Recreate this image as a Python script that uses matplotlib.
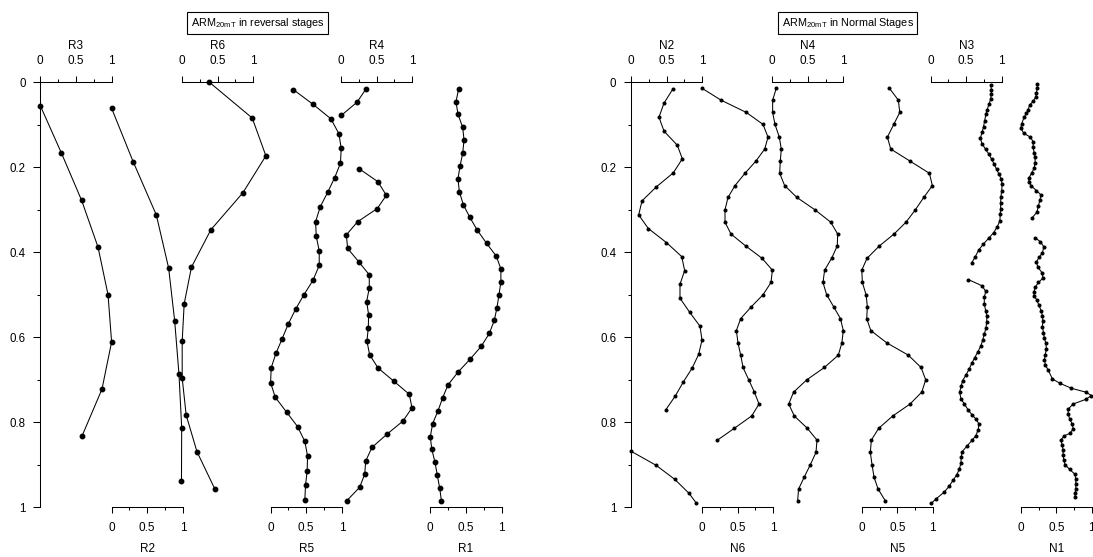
import numpy as np
import matplotlib
matplotlib.use('Agg')
import matplotlib.pyplot as plt
import matplotlib.transforms as mtransforms
from matplotlib.ticker import FixedLocator, FixedFormatter

plt.rcParams['font.family'] = ['Liberation Sans', 'DejaVu Sans']
plt.rcParams['mathtext.fontset'] = 'custom'
plt.rcParams['mathtext.rm'] = 'Liberation Sans'
plt.rcParams['mathtext.it'] = 'Liberation Sans:italic'
plt.rcParams['mathtext.bf'] = 'Liberation Sans:bold'

nan = np.nan

# ---------------- Reversal stages (left panel) ----------------
R3_depth = [0.055, 0.166, 0.278, 0.388, 0.500, 0.611, 0.722, 0.832]
R3 = [0.0, 0.295, 0.58, 0.81, 0.95, 1.0, 0.865, 0.586]

R2_depth = [0.061, 0.1875, 0.312, 0.437, 0.562, 0.687, 0.8125, 0.937]
R2 = [0.0, 0.304, 0.627, 0.80, 0.885, 0.945, 0.983, 0.98]

R6_depth = [0.0, 0.084, 0.173, 0.26, 0.347, 0.435, 0.521, 0.609, 0.696, 0.783, 0.869, 0.957]
R6 = [0.385, 0.985, 1.177, 0.854, 0.405, 0.133, 0.031, 0.003, 0.003, 0.059, 0.21, 0.461]

R5_depth = [0.017, 0.052, 0.086, 0.121, 0.155, 0.19, 0.224, 0.259, 0.293, 0.328,
            0.362, 0.397, 0.431, 0.466, 0.5, 0.534, 0.569, 0.603, 0.638, 0.672,
            0.707, 0.741, 0.776, 0.81, 0.845, 0.879, 0.914, 0.948, 0.983]
R5 = [0.317, 0.597, 0.846, 0.958, 0.99, 0.98, 0.90, 0.80, 0.696, 0.631,
      0.64, 0.682, 0.682, 0.594, 0.467, 0.35, 0.247, 0.163, 0.074, 0.008,
      0.0, 0.065, 0.224, 0.378, 0.48, 0.518, 0.513, 0.49, 0.48]

R4_depth = [0.016, 0.047, 0.078, 0.109, 0.141, 0.172, 0.203, 0.234, 0.266, 0.297,
            0.328, 0.359, 0.391, 0.422, 0.453, 0.484, 0.516, 0.547, 0.578, 0.609,
            0.641, 0.672, 0.703, 0.734, 0.766, 0.797, 0.828, 0.859, 0.891, 0.922,
            0.953, 0.984]
R4 = [0.35, 0.224, 0.004, nan, nan, nan, 0.252, 0.519, 0.636, 0.509,
      0.234, 0.075, 0.094, 0.248, 0.397, 0.397, 0.36, 0.388, 0.383, 0.364,
      0.402, 0.519, 0.739, 0.958, 0.996, 0.87, 0.645, 0.435, 0.347, 0.333,
      0.262, 0.084]

R1_depth = [0.015, 0.046, 0.075, 0.106, 0.136, 0.167, 0.197, 0.227, 0.257, 0.288,
            0.317, 0.348, 0.379, 0.409, 0.439, 0.469, 0.50, 0.53, 0.56, 0.591,
            0.621, 0.651, 0.682, 0.712, 0.742, 0.773, 0.803, 0.834, 0.863, 0.894,
            0.925, 0.955, 0.984]
R1 = [0.398, 0.36, 0.388, 0.454, 0.473, 0.454, 0.417, 0.388, 0.407, 0.463,
      0.552, 0.659, 0.79, 0.925, 0.99, 0.99, 0.963, 0.935, 0.898, 0.827,
      0.715, 0.561, 0.388, 0.248, 0.174, 0.108, 0.033, 0.0, 0.02, 0.066,
      0.098, 0.132, 0.155]

# ---------------- Normal stages (right panel) ----------------
N2_depth = [0.0165, 0.049, 0.082, 0.115, 0.148, 0.18, 0.213, 0.246, 0.279, 0.312,
            0.344, 0.377, 0.41, 0.443, 0.475, 0.508, 0.541, 0.574, 0.607, 0.64,
            0.672, 0.705, 0.738, 0.771, 0.804, 0.836, 0.868, 0.901, 0.934, 0.967,
            0.989]
N2 = [0.587, 0.465, 0.394, 0.465, 0.652, 0.723, 0.596, 0.357, 0.155, 0.108,
      0.244, 0.498, 0.714, 0.756, 0.69, 0.69, 0.826, 0.972, 1.0, 0.953,
      0.863, 0.737, 0.624, 0.488, nan, nan, 0.0, 0.352, 0.615, 0.817,
      0.915]

N6_depth = [0.014, 0.042, 0.071, 0.099, 0.129, 0.157, 0.185, 0.214, 0.243, 0.271,
            0.30, 0.329, 0.357, 0.385, 0.414, 0.442, 0.471, 0.50, 0.528, 0.556,
            0.584, 0.613, 0.642, 0.671, 0.70, 0.729, 0.757, 0.785, 0.814, 0.842]
N6 = [0.0, 0.268, 0.625, 0.859, 0.93, 0.883, 0.761, 0.606, 0.465, 0.366,
      0.324, 0.324, 0.408, 0.615, 0.845, 0.991, 0.972, 0.859, 0.695, 0.545,
      0.484, 0.507, 0.545, 0.578, 0.658, 0.738, 0.803, 0.70, 0.456, 0.217]

N4_depth = [0.014, 0.042, 0.071, 0.099, 0.129, 0.157, 0.185, 0.214, 0.243, 0.271,
            0.30, 0.329, 0.357, 0.385, 0.414, 0.442, 0.471, 0.50, 0.528, 0.556,
            0.584, 0.613, 0.642, 0.671, 0.70, 0.729, 0.757, 0.785, 0.814, 0.842,
            0.871, 0.90, 0.929, 0.957, 0.985]
N4 = [0.056, 0.005, 0.005, 0.038, 0.099, 0.127, 0.113, 0.104, 0.174, 0.347,
      0.601, 0.822, 0.921, 0.915, 0.836, 0.737, 0.714, 0.766, 0.864, 0.96,
      1.0, 0.98, 0.93, 0.734, 0.486, 0.30, 0.231, 0.31, 0.493, 0.63,
      0.615, 0.535, 0.45, 0.37, 0.357]

N5_depth = N4_depth
N5 = [0.389, 0.516, 0.535, 0.451, 0.361, 0.408, 0.676, 0.952, 0.995, 0.873,
      0.755, 0.624, 0.455, 0.248, 0.075, 0.0, 0.009, 0.061, 0.079, 0.07,
      0.127, 0.352, 0.656, 0.835, 0.901, 0.845, 0.68, 0.437, 0.239, 0.135,
      0.121, 0.145, 0.173, 0.23, 0.333]

N3_depth = [0.006, 0.017, 0.028, 0.040, 0.052, 0.064, 0.075, 0.091, 0.104, 0.117,
            0.132, 0.145, 0.158, 0.169, 0.181, 0.193, 0.205, 0.216, 0.228, 0.240,
            0.256, 0.269, 0.283, 0.297, 0.311, 0.326, 0.340, 0.354, 0.367, 0.381,
            0.395, 0.410, 0.424, 0.444,
            0.464, 0.479, 0.492, 0.506, 0.522, 0.537, 0.551, 0.565, 0.579, 0.592,
            0.606, 0.620, 0.634, 0.648, 0.661, 0.674, 0.688, 0.702, 0.715, 0.729,
            0.744, 0.757, 0.771, 0.783, 0.793, 0.804, 0.818, 0.832, 0.842, 0.855,
            0.869, 0.882, 0.896, 0.911, 0.924, 0.936, 0.951, 0.965, 0.981, 0.991]
N3 = [0.849, 0.854, 0.854, 0.845, 0.821, 0.797, 0.779, 0.76, 0.746, 0.727,
      0.699, 0.727, 0.775, 0.821, 0.859, 0.896, 0.93, 0.962, 0.995, 1.008,
      1.0, 0.99, 0.986, 0.986, 0.98, 0.976, 0.938, 0.887, 0.817, 0.741,
      0.676, 0.63, 0.582, nan,
      0.53, 0.727, 0.775, 0.756, 0.756, 0.775, 0.793, 0.789, 0.779, 0.756,
      0.734, 0.708, 0.666, 0.62, 0.58, 0.545, 0.50, 0.45, 0.43, 0.408,
      0.427, 0.474, 0.53, 0.586, 0.642, 0.68, 0.67, 0.634, 0.586, 0.516,
      0.445, 0.431, 0.427, 0.403, 0.366, 0.318, 0.258, 0.187, 0.07, 0.008]

N1_depth = [0.004, 0.014, 0.024, 0.034, 0.044, 0.053, 0.064, 0.073, 0.082, 0.097,
            0.108, 0.120, 0.129, 0.140, 0.153, 0.166, 0.176, 0.189, 0.202, 0.213,
            0.224, 0.234, 0.244, 0.255, 0.265, 0.277, 0.291, 0.306, 0.319, 0.342,
            0.366, 0.375, 0.387, 0.401, 0.412, 0.422, 0.435, 0.449, 0.461, 0.471,
            0.481, 0.494, 0.503, 0.512, 0.524, 0.537, 0.549, 0.562, 0.575, 0.589,
            0.602, 0.614, 0.627, 0.641, 0.653, 0.665, 0.677, 0.698, 0.708, 0.720,
            0.729, 0.737, 0.746, 0.757, 0.769, 0.780, 0.793, 0.805, 0.816, 0.826,
            0.832, 0.842, 0.853, 0.865, 0.877, 0.889, 0.900, 0.911, 0.922, 0.933,
            0.945, 0.958, 0.967, 0.975]
N1 = [0.235, 0.23, 0.221, 0.211, 0.178, 0.127, 0.103, 0.08, 0.047, 0.014,
      0.0, 0.042, 0.136, 0.174, 0.174, 0.188, 0.202, 0.202, 0.188, 0.155,
      0.117, 0.113, 0.15, 0.221, 0.286, 0.268, 0.249, 0.225, 0.159, nan,
      0.202, 0.277, 0.324, 0.305, 0.258, 0.221, 0.239, 0.305, 0.31, 0.249,
      0.207, 0.183, 0.192, 0.225, 0.254, 0.286, 0.305, 0.31, 0.305, 0.319,
      0.333, 0.352, 0.362, 0.343, 0.333, 0.347, 0.385, 0.446, 0.549, 0.714,
      0.915, 0.995, 0.915, 0.737, 0.667, 0.667, 0.69, 0.728, 0.737, 0.69,
      0.61, 0.563, 0.582, 0.596, 0.596, 0.606, 0.624, 0.69, 0.76, 0.775,
      0.775, 0.775, 0.765, 0.765]

y_ticks = [0, 0.2, 0.4, 0.6, 0.8, 1]
y_tick_labels = ['0', '0.2', '0.4', '0.6', '0.8', '1']
x_ticks = [0, 0.5, 1]
x_tick_labels = ['0', '0.5', '1']

W, H = 1093, 557
fig = plt.figure(figsize=(W / 100, H / 100), dpi=100)

LW = 0.75


def make_panel(left_px, unit_px, xmax):
    rect = [left_px / W, (H - 507.3) / H, xmax * unit_px / W, 425 / H]
    ax = fig.add_axes(rect)
    ax.set_xlim(0, xmax)
    ax.set_ylim(1, 0)
    ax.patch.set_visible(False)
    for s in ['top', 'right', 'bottom']:
        ax.spines[s].set_visible(False)
    ax.spines['left'].set_linewidth(LW)
    ax.set_xticks([])
    ax.yaxis.set_major_locator(FixedLocator(y_ticks))
    ax.yaxis.set_major_formatter(FixedFormatter(y_tick_labels))
    ax.yaxis.set_minor_locator(FixedLocator([0.1, 0.3, 0.5, 0.7, 0.9]))
    ax.tick_params(axis='y', which='major', length=5, width=LW, pad=5.5,
                   labelsize=8.3, direction='out')
    ax.tick_params(axis='y', which='minor', length=2.5, width=LW, direction='out')
    return ax


def sub_axis(ax, offset, where, label, values, depth, ms):
    tr = mtransforms.blended_transform_factory(ax.transData, ax.transAxes)
    sub = ax.inset_axes([offset, 0, 1, 1], transform=tr)
    sub.set_xlim(0, 1)
    sub.set_ylim(1, 0)
    sub.patch.set_visible(False)
    for s in ['top', 'bottom', 'left', 'right']:
        sub.spines[s].set_visible(s == where)
    sub.spines[where].set_linewidth(LW)
    sub.set_yticks([])
    if where == 'top':
        sub.xaxis.tick_top()
        sub.xaxis.set_label_position('top')
    else:
        sub.xaxis.tick_bottom()
        sub.xaxis.set_label_position('bottom')
    sub.xaxis.set_major_locator(FixedLocator(x_ticks))
    sub.xaxis.set_major_formatter(FixedFormatter(x_tick_labels))
    sub.xaxis.set_minor_locator(FixedLocator([0.25, 0.75]))
    sub.tick_params(axis='x', which='major', length=4.3, width=LW, pad=6.5,
                    labelsize=8.5, direction='out')
    sub.tick_params(axis='x', which='minor', length=2.3, width=LW, direction='out')
    sub.set_xlabel(label, fontsize=8.5, labelpad=4.5 if where == 'top' else 6.5)
    sub.plot(values, depth, '-o', color='black', lw=LW, ms=ms,
             mfc='black', mec='black', clip_on=False, zorder=3)
    return sub


# Left panel
axL = make_panel(40.3, 71.3, 6.47)
ms_L = 3.2
sub_axis(axL, 0.0, 'top', 'R3', R3, R3_depth, ms_L)
sub_axis(axL, 1.0, 'bottom', 'R2', R2, R2_depth, ms_L)
sub_axis(axL, 1.987, 'top', 'R6', R6, R6_depth, ms_L)
sub_axis(axL, 3.23, 'bottom', 'R5', R5, R5_depth, ms_L)
sub_axis(axL, 4.217, 'top', 'R4', R4, R4_depth, ms_L)
sub_axis(axL, 5.47, 'bottom', 'R1', R1, R1_depth, ms_L)

# Right panel
axR = make_panel(631.0, 71.0, 6.49)
ms_R = 1.9
sub_axis(axR, 0.0, 'top', 'N2', N2, N2_depth, ms_R)
sub_axis(axR, 1.0, 'bottom', 'N6', N6, N6_depth, ms_R)
sub_axis(axR, 1.99, 'top', 'N4', N4, N4_depth, ms_R)
sub_axis(axR, 3.25, 'bottom', 'N5', N5, N5_depth, ms_R)
sub_axis(axR, 4.22, 'top', 'N3', N3, N3_depth, ms_R)
sub_axis(axR, 5.49, 'bottom', 'N1', N1, N1_depth, ms_R)

title_y = 1 - 23 / H
for ax, txt in [(axL, 'ARM$_{\\rm 20mT}$ in reversal stages'),
                (axR, 'ARM$_{\\rm 20mT}$ in Normal Stages')]:
    tr = mtransforms.blended_transform_factory(ax.transData, fig.transFigure)
    ax.text(3.05, title_y, txt, transform=tr, ha='center', va='center',
            fontsize=7.8,
            bbox=dict(boxstyle='square,pad=0.35', fc='white', ec='black', lw=0.8))

fig.savefig('out.png', dpi=100)
